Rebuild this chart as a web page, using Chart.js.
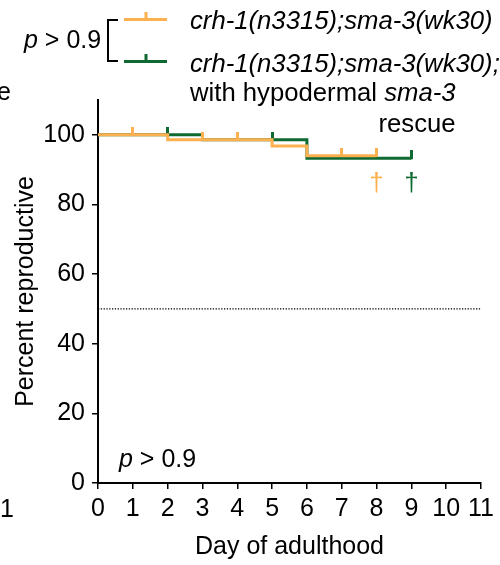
<!DOCTYPE html>
<html>
<head>
<meta charset="utf-8">
<script src="https://cdn.jsdelivr.net/npm/chart.js@4.4.1/dist/chart.umd.min.js"></script>
<style>
html,body{margin:0;padding:0;background:#fff;}
#wrap{width:500px;height:565px;position:relative;}
</style>
</head>
<body>
<div id="wrap"><canvas id="c" width="500" height="565"></canvas></div>
<script>
// ---- data ----
const xTicks = [0,1,2,3,4,5,6,7,8,9,10,11];
const yTicks = [0,20,40,60,80,100];
const orangeDays = [0,2,5,6,8];
const orangePct  = [100,98.6,96.8,94.0,94.0];
const orangeCensorDays = [1,3,4,7,8];
const orangeCensorPct  = [100,98.6,98.6,94.0,94.0];
const greenDays = [0,3,6,9];
const greenPct  = [100,98.6,93.3,93.3];
const greenCensorDays = [2,5,9];
const greenCensorPct  = [100,98.6,93.3];
const halfLineDays = [0,11];
const halfLinePct  = [50,50];
const daggerDays = [8,9];
const daggerPct  = [86,86];
const orangeLabel = 'crh-1(n3315);sma-3(wk30)';
const greenLabel1 = 'crh-1(n3315);sma-3(wk30);';

const ORANGE = '#FDB04F';
const GREEN = '#0E6A30';
const FAM = '"Liberation Sans", Arial, sans-serif';
const FS = 25;
const LFS = 25.7;

function pts(xs, ys){ return xs.map((x,i)=>({x:x, y:ys[i]})); }
function censorImg(color){
  const c = document.createElement('canvas');
  c.width = 3; c.height = 16;
  const g = c.getContext('2d');
  g.fillStyle = color;
  g.fillRect(0,0,3,9);
  return c;
}
const orangeTick = censorImg(ORANGE);
const greenTick = censorImg(GREEN);

const deco = {
  id:'deco',
  afterDraw(chart){
    const ctx = chart.ctx;
    const xs = chart.scales.x, ys = chart.scales.y;
    ctx.save();
    ctx.fillStyle = '#000';
    ctx.textBaseline = 'alphabetic';
    ctx.textAlign = 'left';
    function pText(x, y){
      ctx.font = 'italic '+FS+'px '+FAM;
      ctx.fillText('p', x, y);
      const w = ctx.measureText('p').width;
      ctx.font = FS+'px '+FAM;
      ctx.fillText(' > 0.9', x+w, y);
    }
    pText(24, 48);
    pText(119, 467);
    // bracket
    ctx.strokeStyle = '#000'; ctx.lineWidth = 2;
    ctx.beginPath();
    ctx.moveTo(118, 20); ctx.lineTo(108, 20); ctx.lineTo(108, 61); ctx.lineTo(118, 61);
    ctx.stroke();
    // legend lines
    ctx.lineWidth = 3;
    ctx.strokeStyle = ORANGE;
    ctx.beginPath(); ctx.moveTo(124, 19.5); ctx.lineTo(167, 19.5); ctx.stroke();
    ctx.fillStyle = ORANGE; ctx.fillRect(144.5, 12, 3, 8);
    ctx.strokeStyle = GREEN;
    ctx.beginPath(); ctx.moveTo(124, 61.5); ctx.lineTo(167, 61.5); ctx.stroke();
    ctx.fillStyle = GREEN; ctx.fillRect(144.5, 54, 3, 8);
    // legend text
    ctx.fillStyle = '#000';
    ctx.font = 'italic '+LFS+'px '+FAM;
    ctx.fillText(orangeLabel, 190, 29);
    ctx.fillText(greenLabel1, 190, 72);
    ctx.font = LFS+'px '+FAM;
    const part1 = 'with hypodermal ';
    ctx.fillText(part1, 190, 101);
    const w1 = ctx.measureText(part1).width;
    ctx.font = 'italic '+LFS+'px '+FAM;
    ctx.fillText('sma-3', 190+w1, 101);
    const w2 = ctx.measureText('sma-3').width;
    ctx.font = LFS+'px '+FAM;
    ctx.textAlign = 'right';
    ctx.fillText('rescue', 190+w1+w2, 132);
    // fragments of neighbouring panel
    ctx.font = FS+'px '+FAM;
    ctx.textAlign = 'left';
    ctx.fillText('e', -3, 100);
    ctx.fillText('1', 0, 517);
    // daggers
    ctx.textAlign = 'center';
    ctx.textBaseline = 'middle';
    ctx.font = '26px '+FAM;
    const dcol = [ORANGE, GREEN];
    daggerDays.forEach((d,i)=>{
      ctx.fillStyle = dcol[i];
      ctx.fillText('\u2020', xs.getPixelForValue(d), ys.getPixelForValue(daggerPct[i]));
    });
    ctx.restore();
  }
};

new Chart(document.getElementById('c'), {
  type:'line',
  data:{
    datasets:[
      {data:pts(orangeCensorDays, orangeCensorPct), showLine:false, pointStyle:orangeTick, pointRadius:5, pointHoverRadius:5, borderColor:ORANGE, backgroundColor:ORANGE, clip:false},
      {data:pts(orangeDays, orangePct), stepped:true, borderColor:ORANGE, borderWidth:3, pointRadius:0, fill:false, clip:false},
      {data:pts(greenCensorDays, greenCensorPct), showLine:false, pointStyle:greenTick, pointRadius:5, pointHoverRadius:5, borderColor:GREEN, backgroundColor:GREEN, clip:false},
      {data:pts(greenDays, greenPct), stepped:true, borderColor:GREEN, borderWidth:3, pointRadius:0, fill:false, clip:false},
      {data:pts(halfLineDays, halfLinePct), borderColor:'#000', borderWidth:1.3, borderDash:[1.3,1.5], pointRadius:0, fill:false}
    ]
  },
  options:{
    responsive:false,
    animation:false,
    events:[],
    layout:{padding:{top:100, right:19, bottom:0, left:0}},
    plugins:{legend:{display:false}, tooltip:{enabled:false}},
    scales:{
      x:{
        type:'linear', min:0, max:11,
        afterBuildTicks:s=>{ s.ticks = xTicks.map(v=>({value:v})); },
        afterFit:s=>{ s.height = 82; },
        ticks:{font:{family:FAM,size:FS}, color:'#000', padding:5, maxRotation:0, autoSkip:false},
        grid:{display:true, drawOnChartArea:false, drawTicks:true, tickLength:6, color:'#000', lineWidth:1.5},
        border:{display:true, color:'#000', width:2},
        title:{display:true, text:'Day of adulthood', font:{family:FAM,size:FS}, color:'#000', padding:{top:0,bottom:3}}
      },
      y:{
        type:'linear', min:0, max:110,
        afterBuildTicks:s=>{ s.ticks = yTicks.map(v=>({value:v})); },
        afterFit:s=>{ s.width = 98; },
        ticks:{font:{family:FAM,size:FS}, color:'#000', padding:7},
        grid:{display:true, drawOnChartArea:false, drawTicks:true, tickLength:6, color:'#000', lineWidth:1.5},
        border:{display:true, color:'#000', width:2},
        title:{display:true, text:'Percent reproductive', font:{family:FAM,size:FS}, color:'#000', padding:{top:11,bottom:0}}
      }
    }
  },
  plugins:[deco]
});
</script>
</body>
</html>
